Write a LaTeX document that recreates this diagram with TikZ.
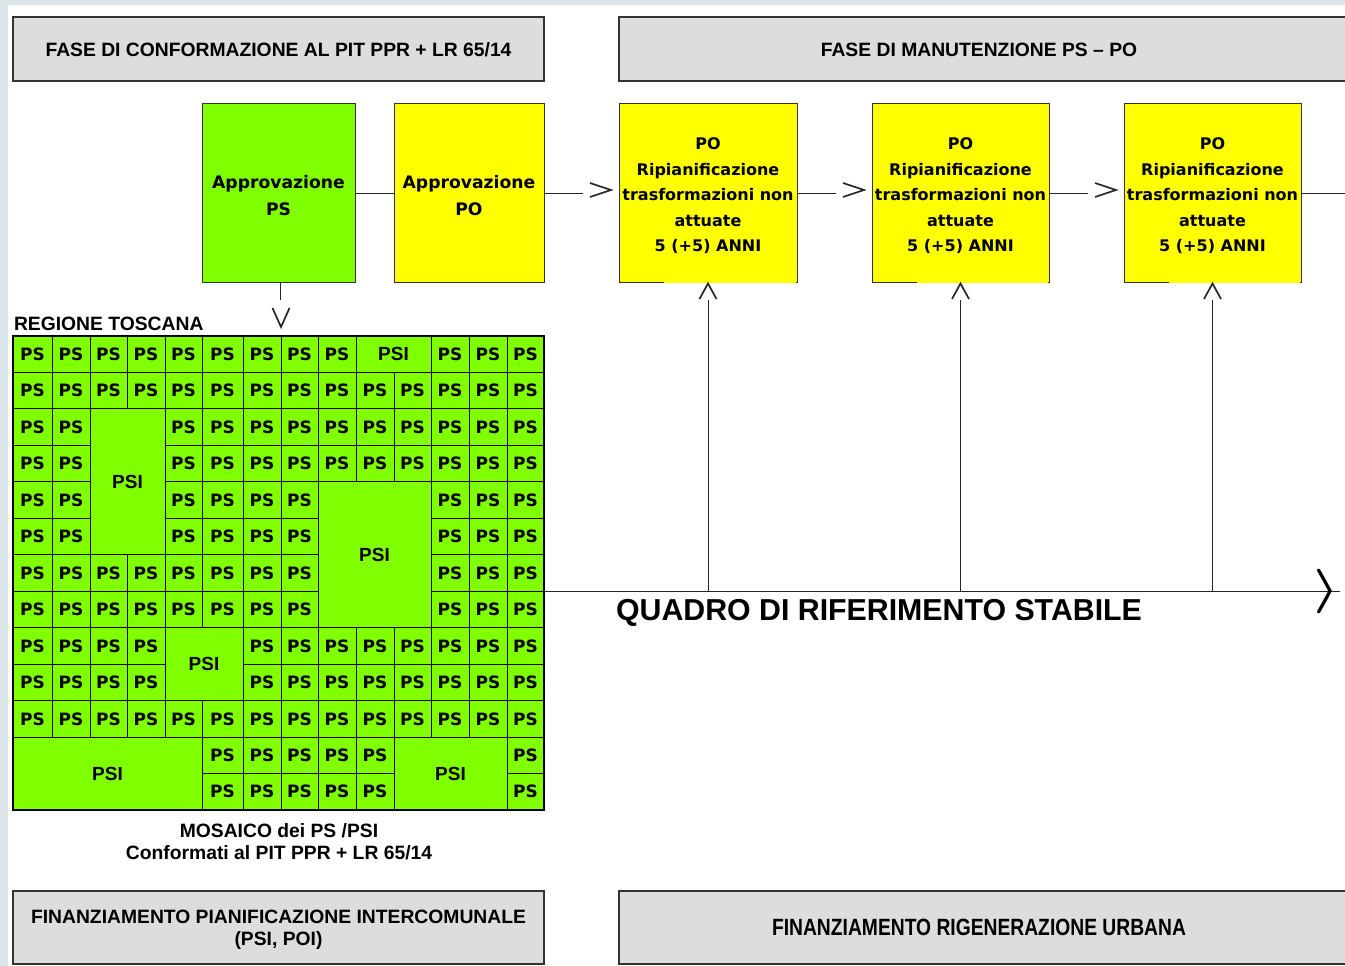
\documentclass[tikz,border=0pt]{standalone}
\usepackage{fontspec}
\setmainfont{Liberation Sans}
\newfontfamily\dvfont{DejaVu Sans}
\newfontfamily\narrowfont[FakeStretch=0.82]{Liberation Sans}
\usetikzlibrary{calc}
\definecolor{framebg}{HTML}{DCE6EA}
\definecolor{hdrgray}{HTML}{DDDDDD}
\definecolor{lime}{HTML}{80FF00}
\definecolor{yel}{HTML}{FFFF00}
\definecolor{edge}{HTML}{333333}
\newcommand\psifont{\rmfamily\bfseries\fontsize{19}{22}\selectfont}
\newcommand\mycell[5]{%
  \pgfmathsetmacro\xl{{13,52,90,127,165,202,243,281,318,356,394,431,469,507,544}[#1-1]}%
  \pgfmathsetmacro\xr{{13,52,90,127,165,202,243,281,318,356,394,431,469,507,544}[#2]}%
  \pgfmathsetmacro\yt{336+36.4615*(#3-1)}%
  \pgfmathsetmacro\yb{336+36.4615*#4}%
  \pgfmathsetmacro\wdc{\xr-\xl}%
  \pgfmathsetmacro\htc{\yb-\yt}%
  \node[cellbox, minimum width=\wdc pt, minimum height=\htc pt] (cell-#3-#1) at ({(\xl+\xr)/2},{(\yt+\yb)/2}) {#5};%
}
\tikzset{
  hdr/.style={draw=edge, line width=1.1pt, fill=hdrgray, anchor=north west, inner sep=0pt, outer sep=0pt,
    align=center, font=\bfseries\fontsize{19.3}{22}\selectfont},
  stepbox/.style={draw=edge, line width=1pt, anchor=north west, inner sep=0pt, outer sep=0pt, align=center},
  pobox/.style={stepbox, fill=yel, minimum height=178pt, font=\dvfont\bfseries\fontsize{16}{25.5}\selectfont},
  apbox/.style={stepbox, minimum height=178pt, font=\dvfont\bfseries\fontsize{17.2}{27}\selectfont},
  cellbox/.style={draw=black, line width=0.9pt, inner sep=0pt, outer sep=0pt, font=\dvfont\bfseries\fontsize{17}{20}\selectfont},
  lbl/.style={inner sep=0pt, outer sep=0pt, align=center, font=\bfseries\fontsize{19.3}{22}\selectfont},
  conn/.style={draw=black!85, line width=1pt},
  chev/.style={draw=black!85, line width=1.7pt, line join=miter},
  bigchev/.style={draw=black, line width=3.2pt, line cap=round},
}
\begin{document}
\begin{tikzpicture}[x=1pt, y=-1pt]
\useasboundingbox (0,0) rectangle (1345,966);
\fill[framebg] (0,0) rectangle (1345,966);
\fill[white] (8,5) rectangle (1345,966);

% headers
\node[hdr, minimum width=531pt, minimum height=64pt] (hdrL) at (13,17) {\rule{0pt}{15.5pt}FASE DI CONFORMAZIONE AL PIT PPR + LR 65/14};
\node[hdr, minimum width=731pt, minimum height=64pt] (hdrR) at (619,17) {\hspace*{-11pt}\rule{0pt}{15.5pt}FASE DI MANUTENZIONE PS – PO};

% step boxes
\node[apbox, fill=lime, minimum width=153pt] (apPS) at (202,104) {\rule{0pt}{19pt}Approvazione\\PS};
\node[apbox, fill=yel, minimum width=150pt] (apPO) at (394,104) {\rule{0pt}{19pt}Approvazione\\PO};
\node[pobox, minimum width=178pt] (po1) at (619,104) {\rule{0pt}{18pt}PO\\Ripianificazione\\trasformazioni non\\attuate\\5 (+5) ANNI};
\node[pobox, minimum width=177pt] (po2) at (872,104) {\rule{0pt}{18pt}PO\\Ripianificazione\\trasformazioni non\\attuate\\5 (+5) ANNI};
\node[pobox, minimum width=177pt] (po3) at (1124,104) {\rule{0pt}{18pt}PO\\Ripianificazione\\trasformazioni non\\attuate\\5 (+5) ANNI};

% gaps in bottom borders of PO boxes
\foreach \b in {po1,po2,po3}{
  \draw[yel, line width=1.3pt] ($(\b.south west)+(45,0)$) -- ($(\b.south east)+(-0.8,0)$);
}

% horizontal connectors
\draw[conn] (apPS.east) -- (apPO.west);
\draw[conn] (apPO.east) -- ($(po1.west)+(-36,0)$);
\draw[conn] (po1.east) -- ($(po2.west)+(-36,0)$);
\draw[conn] (po2.east) -- ($(po3.west)+(-36,0)$);
\coordinate (rightend) at (1350,193);
\draw[conn] (po3.east) -- (rightend);
\foreach \b in {po1,po2,po3}{
  \draw[chev] ($(\b.west)+(-29,-10)$) -- ($(\b.west)+(-8,-3)$) -- ($(\b.west)+(-29,4)$);
}

% mosaic
\node[draw=black, line width=1.2pt, fill=lime, anchor=north west, minimum width=531pt, minimum height=474pt,
  inner sep=0pt, outer sep=0pt] (mosaic) at (13,336) {};
\node[lbl, anchor=west] (regione) at (14,324) {REGIONE TOSCANA};

\foreach \r/\cl in {1/{1,2,3,4,5,6,7,8,9,12,13,14}, 2/{1,...,14},
  3/{1,2,5,6,7,8,9,10,11,12,13,14}, 4/{1,2,5,6,7,8,9,10,11,12,13,14},
  5/{1,2,5,6,7,8,12,13,14}, 6/{1,2,5,6,7,8,12,13,14},
  7/{1,2,3,4,5,6,7,8,12,13,14}, 8/{1,2,3,4,5,6,7,8,12,13,14},
  9/{1,2,3,4,7,8,9,10,11,12,13,14}, 10/{1,2,3,4,7,8,9,10,11,12,13,14},
  11/{1,...,14}, 12/{6,7,8,9,10,14}, 13/{6,7,8,9,10,14}}{
  \foreach \c in \cl {\mycell{\c}{\c}{\r}{\r}{PS}}
}
\mycell{10}{11}{1}{1}{\psifont PSI}
\mycell{3}{4}{3}{6}{\psifont PSI}
\mycell{9}{11}{5}{8}{\psifont PSI}
\mycell{5}{6}{9}{10}{\psifont PSI}
\mycell{1}{5}{12}{13}{\psifont PSI}
\mycell{11}{13}{12}{13}{\psifont PSI}
\draw[black, line width=1.3pt] (mosaic.north west) rectangle (mosaic.south east);

\node[lbl] (mosaictitle) at (279,842) {MOSAICO dei PS /PSI\\Conformati al PIT PPR + LR 65/14};

% down connector into mosaic
\coordinate (mtop) at (apPS.south |- mosaic.north);
\draw[conn] ($(apPS.south)+(2,0)$) -- ($(mtop)+(2,-36)$);
\draw[chev] ($(mtop)+(-6,-28)$) -- ($(mtop)+(2.5,-9)$) -- ($(mtop)+(11,-28)$);

% timeline
\coordinate (tlstart) at (544,591);
\coordinate (tlend) at (1340,591);
\draw[conn] (mosaic.east |- tlstart) -- (tlend);
\draw[bigchev] (1318.5,570) .. controls (1323,578) and (1327,585) .. (1330,591) .. controls (1327,597) and (1323,604) .. (1318.5,612);
\foreach \b in {po1,po2,po3}{
  \draw[conn] (\b.south |- tlstart) -- ($(\b.south)+(0,18)$);
  \draw[chev] ($(\b.south)+(-8.5,17)$) -- ($(\b.south)+(0,1.5)$) -- ($(\b.south)+(8.5,17)$);
}
\node[lbl, font=\bfseries\fontsize{30.3}{34}\selectfont] (quadro) at (879,613) {QUADRO DI RIFERIMENTO STABILE};

% bottom boxes
\node[hdr, minimum width=531pt, minimum height=73pt] (finL) at (13,891) {\rule{0pt}{18.8pt}FINANZIAMENTO PIANIFICAZIONE INTERCOMUNALE\\(PSI, POI)};
\node[hdr, minimum width=731pt, minimum height=73pt, font=\narrowfont\bfseries\fontsize{23.5}{26}\selectfont] (finR) at (619,891) {\hspace*{-11pt}FINANZIAMENTO RIGENERAZIONE URBANA};
\end{tikzpicture}
\end{document}
